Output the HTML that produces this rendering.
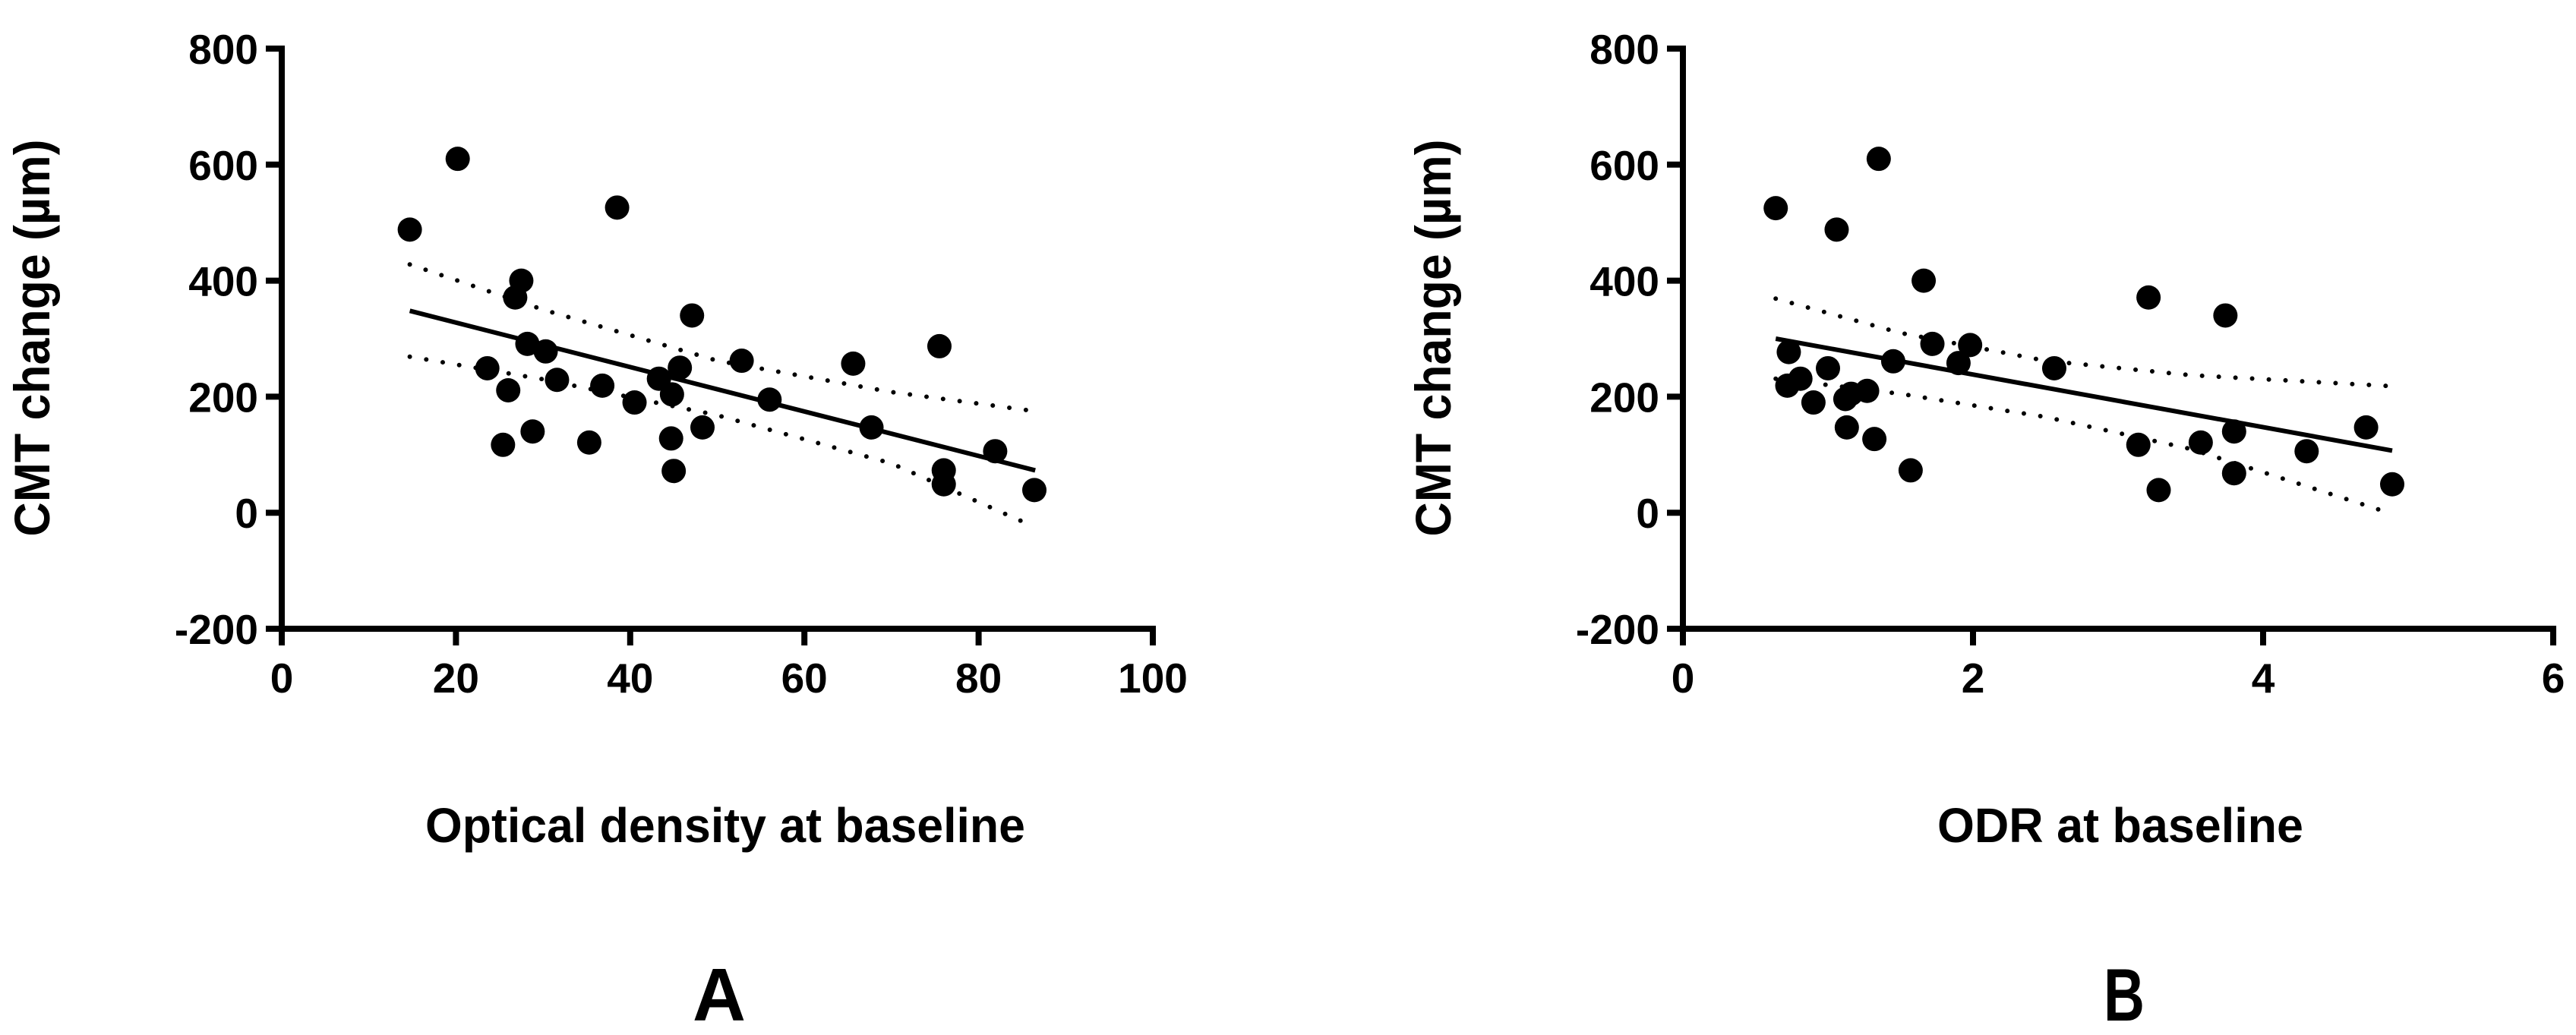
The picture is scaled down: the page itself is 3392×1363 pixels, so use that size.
<!DOCTYPE html>
<html><head><meta charset="utf-8">
<style>
html,body{margin:0;padding:0;background:#fff;}
svg{display:block;}
text{font-family:"Liberation Sans",Arial,sans-serif;fill:#000;}
</style></head>
<body>
<svg id="fig" width="3392" height="1363" viewBox="0 0 3392 1363" xmlns="http://www.w3.org/2000/svg"></svg>
<script>
// Panel A data
const aX = [14.7,20.2,38.5,27.5,26.8,47.1,28.2,30.3,23.6,26.0,31.6,36.8,40.5,43.3,45.7,44.8,52.8,56.0,65.6,75.5,67.7,81.9,76.0,76.0,86.4,25.4,28.8,35.3,44.7,45.0,48.3];
const aY = [488,610,526,400,371,340,291,278,249,211,229,219,190,231,250,204,262,195,257,287,147,106,73,49,39,117,140,121,128,72,147];
const aFitX = [14.7,86.5];
const aFitY = [348,73];
const aCiX = [14.7,30,50,70,86.5];
const aCiUpper = [428,350,262,208,175];
const aCiLower = [269,230,168,85,-25];
const aXTicks = [0,20,40,60,80,100];
// Panel B data
const bX = [0.64,1.35,1.06,1.66,3.21,3.74,0.73,1.72,1.98,1.90,1.45,2.56,1.00,0.72,0.81,0.90,1.12,1.16,1.27,1.13,1.32,1.57,3.14,3.57,3.80,3.80,3.28,4.30,4.71,4.89];
const bY = [525,610,488,400,371,340,277,291,289,258,261,249,249,219,231,190,196,205,210,147,127,73,117,121,140,68,39,106,147,49];
const bFitX = [0.64,4.89];
const bFitY = [300,107];
const bCiX = [0.64,1.5,2.5,3.5,4.89];
const bCiUpper = [369,310,262,237,218];
const bCiLower = [231,205,165,110,-2];
const bXTicks = [0,2,4,6];
const yTicks = [-200,0,200,400,600,800];

const NS = "http://www.w3.org/2000/svg";
const svg = document.getElementById('fig');
function mk(tag, attrs, parent){
  const e = document.createElementNS(NS, tag);
  for (const k in attrs) e.setAttribute(k, attrs[k]);
  (parent||svg).appendChild(e);
  return e;
}

function panel(o){
  const g = mk('g', {});
  
  
  const X0=o.x0, X1=o.x1, Y0=828, Y1=64;
  const sx = v => X0 + (v - o.xmin)/(o.xmax - o.xmin)*(X1 - X0);
  const sy = v => Y0 - (v + 200)/1000*(Y0 - Y1);
  const ya = mk('line',{x1:X0,y1:Y1-4,x2:X0,y2:Y0+4,stroke:'#000','stroke-width':8},g);
  
  
  const xa = mk('line',{x1:X0-4,y1:Y0,x2:X1+4,y2:Y0,stroke:'#000','stroke-width':8},g);
  
  
  yTicks.forEach(t=>{
    const y = sy(t);
    const tk = mk('line',{x1:X0-21,y1:y,x2:X0,y2:y,stroke:'#000','stroke-width':8},g);
    
    
    const tl = mk('text',{x:X0-31,y:y+20,'text-anchor':'end','font-size':55,'font-weight':'bold'},g);
    tl.textContent = t;
    
    
  });
  o.ticks.forEach(t=>{
    const x = sx(t);
    const tk = mk('line',{x1:x,y1:Y0,x2:x,y2:Y0+22,stroke:'#000','stroke-width':8},g);
    
    
    const tl = mk('text',{x:x,y:912,'text-anchor':'middle','font-size':55,'font-weight':'bold'},g);
    tl.textContent = t;
    
    
  });
  [o.ciU,o.ciL].forEach((arr,i)=>{
    const d = o.ciX.map((v,j)=>(j?'L':'M')+sx(v).toFixed(1)+','+sy(arr[j]).toFixed(1)).join(' ');
    const p = mk('path',{d:d,fill:'none',stroke:'#000','stroke-width':6,'stroke-linecap':'round','stroke-dasharray':'0 22'},g);
    
    
  });
  const fl = mk('line',{x1:sx(o.fitX[0]),y1:sy(o.fitY[0]),x2:sx(o.fitX[1]),y2:sy(o.fitY[1]),stroke:'#000','stroke-width':6},g);
  
  
  o.xs.forEach((v,i)=>{
    const c = mk('circle',{cx:sx(v),cy:sy(o.ys[i]),r:16,fill:'#000'},g);
    
    
  });
  const yt = mk('text',{x:0,y:0,transform:`translate(${X0-306},445) rotate(-90)`,'text-anchor':'middle','font-size':66,'font-weight':'bold',textLength:523,lengthAdjust:'spacingAndGlyphs'},g);
  yt.textContent = 'CMT change (µm)';
  
  
  const xt = mk('text',{x:o.xtCx,y:1109,'text-anchor':'middle','font-size':64,'font-weight':'bold',textLength:o.xtW,lengthAdjust:'spacingAndGlyphs'},g);
  xt.textContent = o.xTitle;
  
  
  const pl = mk('text',{x:o.lblCx,y:1344,'text-anchor':'middle','font-size':98,'font-weight':'bold',textLength:o.lblW,lengthAdjust:'spacingAndGlyphs'},g);
  pl.textContent = o.label;
  
  
}

panel({name:'panel-a',x0:371,x1:1518,xmin:0,xmax:100,ticks:aXTicks,xs:aX,ys:aY,fitX:aFitX,fitY:aFitY,ciX:aCiX,ciU:aCiUpper,ciL:aCiLower,xTitle:'Optical density at baseline',xtCx:955,xtW:790,label:'A',lblCx:947,lblW:70});
panel({name:'panel-b',x0:2216,x1:3362,xmin:0,xmax:6,ticks:bXTicks,xs:bX,ys:bY,fitX:bFitX,fitY:bFitY,ciX:bCiX,ciU:bCiUpper,ciL:bCiLower,xTitle:'ODR at baseline',xtCx:2792,xtW:482,label:'B',lblCx:2797,lblW:54});
</script>
</body></html>
